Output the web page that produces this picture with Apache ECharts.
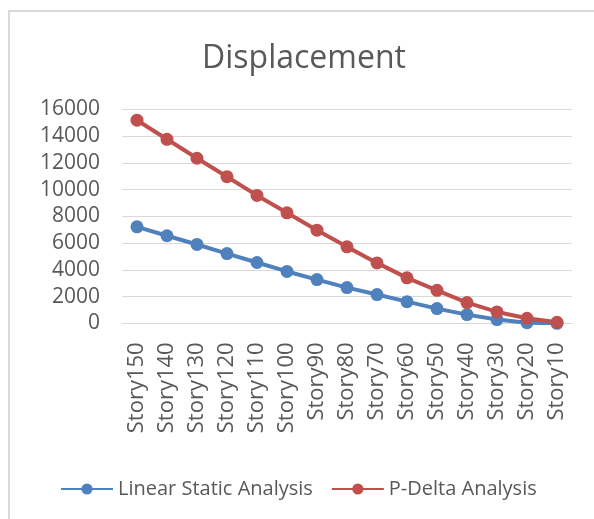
<!DOCTYPE html>
<html>
<head>
<meta charset="utf-8">
<script src="https://cdn.jsdelivr.net/npm/echarts@6/dist/echarts.min.js"></script>
<style>
  html, body { margin: 0; padding: 0; background: #ffffff; }
  #chart { width: 594px; height: 519px; }
</style>
</head>
<body>
<div id="chart"></div>
<script>
// Storey labels, top of the building first
const stories = ['Story150', 'Story140', 'Story130', 'Story120', 'Story110', 'Story100',
  'Story90', 'Story80', 'Story70', 'Story60', 'Story50', 'Story40', 'Story30', 'Story20', 'Story10'];

// Displacement per storey for each analysis type
const linearStatic = [7220, 6550, 5900, 5220, 4550, 3880, 3270, 2670, 2150, 1620, 1100, 650, 280, 40, 0];
const pDelta = [15200, 13770, 12350, 10970, 9570, 8270, 6970, 5720, 4520, 3400, 2470, 1550, 850, 380, 80];

const yTicks = { min: 0, max: 16000, interval: 2000 };

const textColor = '#595959';
const fontFamily = '"Open Sans", "Liberation Sans", sans-serif';

const chart = echarts.init(document.getElementById('chart'));
chart.setOption({
  animation: false,
  backgroundColor: '#ffffff',
  title: {
    text: 'Displacement',
    left: 299,
    top: 38,
    textAlign: 'center',
    textStyle: { color: textColor, fontSize: 32, fontWeight: 'normal', fontFamily: fontFamily }
  },
  graphic: [{
    type: 'rect',
    shape: { x: 9, y: 11, width: 600, height: 520 },
    style: { fill: 'none', stroke: '#d9d9d9', lineWidth: 2 },
    silent: true
  }],
  legend: {
    left: 55,
    top: 474,
    itemWidth: 52,
    itemHeight: 14,
    itemGap: 18,
    textStyle: { color: textColor, fontSize: 20, fontFamily: fontFamily },
    data: ['Linear Static Analysis', 'P-Delta Analysis']
  },
  grid: { left: 122, right: 22, top: 109.5, bottom: 195.7 },
  xAxis: {
    type: 'category',
    data: stories,
    boundaryGap: true,
    axisLine: { lineStyle: { color: '#d9d9d9', width: 1 } },
    axisTick: { show: false },
    axisLabel: {
      rotate: 90,
      margin: 19,
      color: textColor,
      fontSize: 22,
      fontFamily: fontFamily,
      interval: 0
    }
  },
  yAxis: {
    type: 'value',
    min: yTicks.min,
    max: yTicks.max,
    interval: yTicks.interval,
    axisLine: { show: false },
    axisTick: { show: false },
    splitLine: { lineStyle: { color: '#d9d9d9', width: 1 } },
    axisLabel: {
      color: textColor,
      fontSize: 21,
      fontFamily: fontFamily,
      margin: 22,
      formatter: (v) => String(v)
    }
  },
  series: [
    {
      name: 'Linear Static Analysis',
      type: 'line',
      data: linearStatic,
      symbol: 'circle',
      symbolSize: 13,
      lineStyle: { color: '#4f81bd', width: 4 },
      itemStyle: { color: '#4f81bd' }
    },
    {
      name: 'P-Delta Analysis',
      type: 'line',
      data: pDelta,
      symbol: 'circle',
      symbolSize: 13,
      lineStyle: { color: '#c0504d', width: 4 },
      itemStyle: { color: '#c0504d' }
    }
  ]
});
</script>
</body>
</html>
